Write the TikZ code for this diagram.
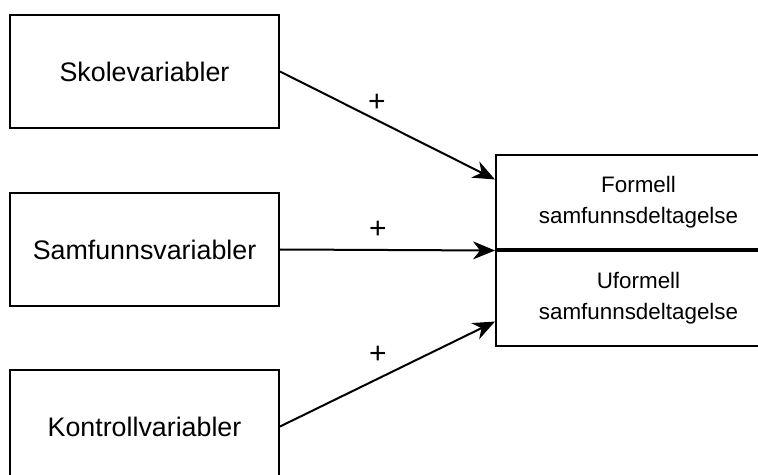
\documentclass[tikz,border=0pt]{standalone}
\usepackage{fontspec}
\setmainfont{Liberation Sans}
\usetikzlibrary{arrows.meta,calc,positioning}
\tikzset{
  varbox/.style={draw, line width=1pt, minimum width=134.5pt, minimum height=56.5pt,
    font=\fontsize{13.4}{16}\selectfont},
  utfallbox/.style={draw, line width=1pt, minimum width=142.5pt, minimum height=47pt,
    align=center, inner sep=0pt, font=\fontsize{11.2}{15.5}\selectfont},
  pil/.style={-{Stealth[length=11pt,width=9pt,inset=3.5pt]}, line width=1pt},
  pluss/.style={font=\fontsize{15}{16}\selectfont}
}
\begin{document}
\begin{tikzpicture}[x=0.5pt, y=-0.5pt]
  \useasboundingbox (0,0) rectangle (758,475);
  \clip (0,0) rectangle (758,475);
  % forklaringsvariabler
  \node[varbox] (skole) at (144.5,71.5) {Skolevariabler};
  \node[varbox] (samfunn) at (144.5,249.5) {Samfunnsvariabler};
  \node[varbox] (kontroll) at (144.5,426.5) {Kontrollvariabler};
  % utfall
  \node[utfallbox] (formell) at (638.5,202.5) {Formell\\samfunnsdeltagelse};
  \node[utfallbox, below=0pt of formell] (uformell) {Uformell\\samfunnsdeltagelse};
  \draw[line width=1.6pt] (formell.south west) -- (formell.south east);
  \coordinate (inn1) at ($(formell.north west)!0.26!(formell.south west)$);
  \coordinate (inn3) at ($(uformell.south west)!0.26!(uformell.north west)$);
  % piler
  \draw[pil] (skole.east) -- (inn1);
  \draw[pil] (samfunn.east) -- (formell.south west);
  \draw[pil] (kontroll.east) -- (inn3);
  \node[pluss] (p1) at (377,103) {+};
  \node[pluss] (p2) at (378,230) {+};
  \node[pluss] (p3) at (378,355) {+};
\end{tikzpicture}
\end{document}
